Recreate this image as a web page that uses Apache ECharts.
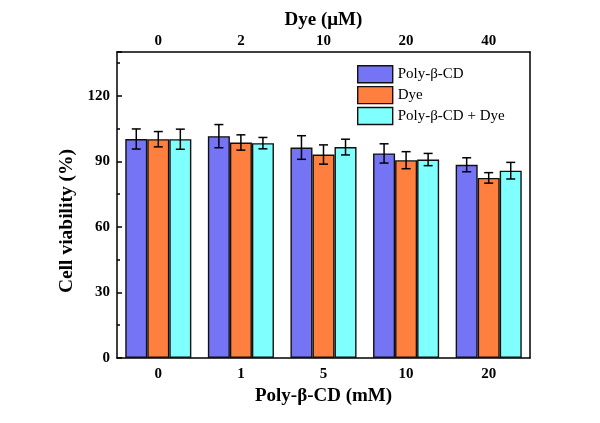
<!DOCTYPE html>
<html><head><meta charset="utf-8">
<script src="https://cdn.jsdelivr.net/npm/echarts@6/dist/echarts.min.js"></script>
<style>html,body{margin:0;padding:0;background:#fff}#c{width:600px;height:423px}</style>
</head><body><div id="c"></div>
<script>
const polyCats = ['0', '1', '5', '10', '20'];
const dyeCats = ['0', '2', '10', '20', '40'];
const seriesNames = ['Poly-β-CD', 'Dye', 'Poly-β-CD + Dye'];
const polyVals = [100.2, 101.5, 96.3, 93.6, 88.4];
const polyErr = [4.6, 5.3, 5.4, 4.4, 3.2];
const dyeVals = [100.1, 98.6, 93.1, 90.5, 82.4];
const dyeErr = [3.5, 3.5, 4.4, 3.9, 2.4];
const bothVals = [100.1, 98.3, 96.5, 90.8, 85.7];
const bothErr = [4.6, 2.6, 3.6, 2.8, 3.8];
const colors = ['#7474F4', '#FF7F3F', '#80FFFF'];

const FONT = 'Liberation Serif';
const vals = [polyVals, dyeVals, bothVals];
const errs = [polyErr, dyeErr, bothErr];

const series = [];
seriesNames.forEach((n, i) => {
  series.push({
    name: n, type: 'bar', data: vals[i], xAxisIndex: 0, yAxisIndex: 0,
    barGap: '0%', barCategoryGap: '20%',
    itemStyle: {color: colors[i], borderColor: '#111', borderWidth: 1.4},
    z: 2
  });
});
seriesNames.forEach((n, i) => {
  series.push({
    type: 'custom', xAxisIndex: 0, yAxisIndex: 0, z: 5, silent: true,
    data: vals[i].map((v, k) => [k, v, errs[i][k]]),
    renderItem: function (params, api) {
      const k = api.value(0), v = api.value(1), e = api.value(2);
      const band = api.size([1, 0])[0];
      const bw = band * 0.8 / 3;
      const c = api.coord([k, v]);
      const x = c[0] + (i - 1) * bw;
      const yt = api.coord([k, v + e])[1];
      const yb = api.coord([k, v - e])[1];
      const cap = 4.5;
      const st = {stroke: '#000', lineWidth: 1.5};
      return {type: 'group', children: [
        {type: 'line', shape: {x1: x, y1: yt, x2: x, y2: yb}, style: st},
        {type: 'line', shape: {x1: x - cap, y1: yt, x2: x + cap, y2: yt}, style: st},
        {type: 'line', shape: {x1: x - cap, y1: yb, x2: x + cap, y2: yb}, style: st}
      ]};
    }
  });
});

const chart = echarts.init(document.getElementById('c'));
chart.setOption({
  animation: false,
  backgroundColor: '#fff',
  textStyle: {fontFamily: FONT},
  grid: {left: 117, right: 70, top: 52, bottom: 65},
  legend: {
    data: seriesNames, orient: 'vertical', left: 352, top: 60,
    icon: 'rect',
    itemWidth: 35, itemHeight: 17, itemGap: 2.5,
    textStyle: {fontFamily: FONT, fontSize: 15, color: '#000'},
    itemStyle: {borderColor: '#111', borderWidth: 1.4}
  },
  xAxis: [
    {type: 'category', data: polyCats, position: 'bottom',
     name: 'Poly-β-CD (mM)', nameLocation: 'middle', nameGap: 25,
     nameTextStyle: {fontFamily: FONT, fontWeight: 'bold', fontSize: 19, color: '#000'},
     axisLine: {onZero: false, lineStyle: {color: '#000', width: 1.5}},
     axisTick: {alignWithLabel: true, inside: true, length: 5, lineStyle: {color: '#000', width: 1.5}},
     axisLabel: {fontFamily: FONT, fontWeight: 'bold', fontSize: 15, color: '#000', margin: 9}},
    {type: 'category', data: dyeCats, position: 'top',
     name: 'Dye (μM)', nameLocation: 'middle', nameGap: 21,
     nameTextStyle: {fontFamily: FONT, fontWeight: 'bold', fontSize: 19, color: '#000'},
     axisLine: {onZero: false, lineStyle: {color: '#000', width: 1.5}},
     axisTick: {alignWithLabel: true, inside: true, length: 5, lineStyle: {color: '#000', width: 1.5}},
     axisLabel: {fontFamily: FONT, fontWeight: 'bold', fontSize: 15, color: '#000', margin: 3}}
  ],
  yAxis: [
    {type: 'value', min: 0, max: 140, interval: 30, position: 'left',
     name: 'Cell viability (%)', nameLocation: 'middle', nameGap: 38,
     nameTextStyle: {fontFamily: FONT, fontWeight: 'bold', fontSize: 19.5, color: '#000', padding: [0, 32, 0, 0]},
     axisLine: {show: true, onZero: false, lineStyle: {color: '#000', width: 1.5}},
     axisTick: {show: true, inside: true, length: 5, lineStyle: {color: '#000', width: 1.5}},
     axisLabel: {fontFamily: FONT, fontWeight: 'bold', fontSize: 15, color: '#000', margin: 7,
       formatter: v => (v % 30 === 0 ? String(v) : '')},
     splitLine: {show: false}},
    {type: 'value', min: 0, max: 140, interval: 15, position: 'left',
     axisLine: {show: false, onZero: false},
     axisTick: {show: true, inside: true, length: 3, lineStyle: {color: '#000', width: 1.5}},
     axisLabel: {show: false}, splitLine: {show: false}},
    {type: 'value', min: 0, max: 140, position: 'right',
     axisLine: {show: true, onZero: false, lineStyle: {color: '#000', width: 1.5}},
     axisTick: {show: false}, axisLabel: {show: false}, splitLine: {show: false}}
  ],
  series: series
});
</script></body></html>
